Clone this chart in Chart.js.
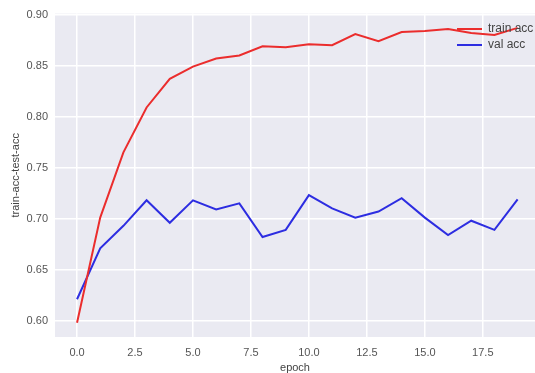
<!DOCTYPE html>
<html>
<head>
<meta charset="utf-8">
<script src="https://cdn.jsdelivr.net/npm/chart.js@4/dist/chart.umd.min.js"></script>
<style>
  body { margin: 0; background: #fff; }
</style>
</head>
<body>
<canvas id="acc" width="535" height="373"></canvas>
<script>
const epochs = [0, 1, 2, 3, 4, 5, 6, 7, 8, 9, 10, 11, 12, 13, 14, 15, 16, 17, 18, 19];
const trainAcc = [0.598, 0.701, 0.765, 0.809, 0.837, 0.849, 0.857, 0.860, 0.869, 0.868,
                  0.871, 0.870, 0.881, 0.874, 0.883, 0.884, 0.886, 0.882, 0.880, 0.887];
const valAcc = [0.621, 0.671, 0.693, 0.718, 0.696, 0.718, 0.709, 0.715, 0.682, 0.689,
                0.723, 0.710, 0.701, 0.707, 0.720, 0.701, 0.684, 0.698, 0.689, 0.719];
const xTicks = [0, 2.5, 5, 7.5, 10, 12.5, 15, 17.5];
const yTicks = [0.60, 0.65, 0.70, 0.75, 0.80, 0.85, 0.90];

const toPoints = (vals) => vals.map((v, i) => ({ x: epochs[i], y: v }));

// seaborn-ish grey plot background
const plotBg = {
    id: 'plotBg',
    beforeDraw(chart) {
        const { ctx, chartArea: a } = chart;
        ctx.save();
        ctx.fillStyle = '#eaeaf2';
        ctx.fillRect(a.left, a.top, a.right - a.left, a.bottom - a.top);
        ctx.restore();
    }
};

// legend inside the axes, upper right, no frame
const innerLegend = {
    id: 'innerLegend',
    afterDatasetsDraw(chart) {
        const ctx = chart.ctx;
        ctx.save();
        ctx.font = '12px "Liberation Sans", Arial, sans-serif';
        ctx.textBaseline = 'middle';
        chart.data.datasets.forEach((ds, i) => {
            const y = 29 + i * 16;
            ctx.strokeStyle = ds.borderColor;
            ctx.lineWidth = 2;
            ctx.beginPath();
            ctx.moveTo(457, y);
            ctx.lineTo(482, y);
            ctx.stroke();
            ctx.fillStyle = '#444';
            ctx.fillText(ds.label, 488, y);
        });
        ctx.restore();
    }
};

const fixTicks = (vals) => (axis) => { axis.ticks = vals.map(v => ({ value: v })); };

new Chart(document.getElementById('acc'), {
    type: 'line',
    data: {
        datasets: [
            {
                label: 'train acc',
                data: toPoints(trainAcc),
                borderColor: 'rgb(235, 45, 45)',
                borderWidth: 2,
                pointRadius: 0,
                tension: 0,
                fill: false
            },
            {
                label: 'val acc',
                data: toPoints(valAcc),
                borderColor: 'rgb(45, 45, 225)',
                borderWidth: 2,
                pointRadius: 0,
                tension: 0,
                fill: false
            }
        ]
    },
    options: {
        responsive: false,
        animation: false,
        layout: { padding: 0 },
        scales: {
            x: {
                type: 'linear',
                min: -0.95,
                max: 19.75,
                afterBuildTicks: fixTicks(xTicks),
                afterFit: (axis) => { axis.height = 36; },
                grid: { color: '#ffffff', lineWidth: 1.5, drawTicks: false },
                border: { display: false },
                ticks: {
                    padding: 9,
                    color: '#555',
                    font: { family: '"Liberation Sans", Arial, sans-serif', size: 11 },
                    callback: (v) => v.toFixed(1)
                },
                title: {
                    display: true,
                    text: 'epoch',
                    color: '#444',
                    padding: { top: 0, bottom: -2 },
                    font: { family: '"Liberation Sans", Arial, sans-serif', size: 11 }
                }
            },
            y: {
                type: 'linear',
                min: 0.584,
                max: 0.901,
                afterBuildTicks: fixTicks(yTicks),
                afterFit: (axis) => { axis.width = 55; },
                grid: { color: '#ffffff', lineWidth: 1.5, drawTicks: false },
                border: { display: false },
                ticks: {
                    padding: 7,
                    color: '#555',
                    font: { family: '"Liberation Sans", Arial, sans-serif', size: 11 },
                    callback: (v) => v.toFixed(2)
                },
                title: {
                    display: true,
                    text: 'train-acc-test-acc',
                    color: '#444',
                    padding: { top: 9, bottom: 0 },
                    font: { family: '"Liberation Sans", Arial, sans-serif', size: 11 }
                }
            }
        },
        plugins: {
            legend: { display: false },
            tooltip: { enabled: false }
        }
    },
    plugins: [plotBg, innerLegend]
});
</script>
</body>
</html>
